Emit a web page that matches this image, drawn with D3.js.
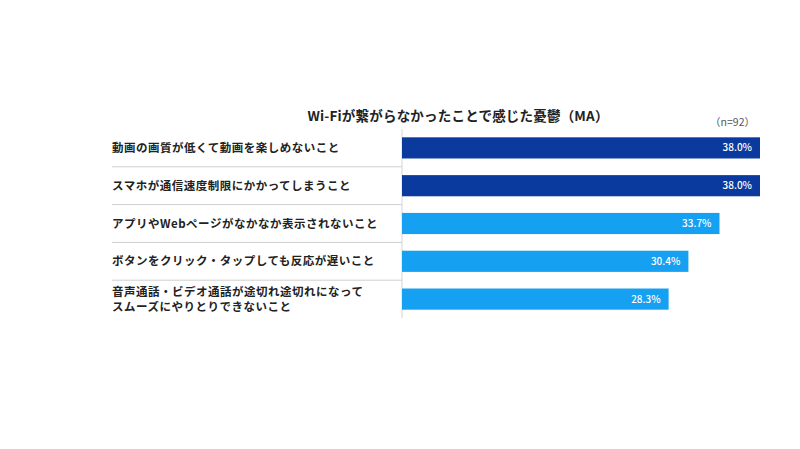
<!DOCTYPE html>
<html>
<head>
<meta charset="utf-8">
<script src="https://cdn.jsdelivr.net/npm/d3@7"></script>
<style>
  body { margin: 0; background: #fff; }
  svg { display: block; font-family: "Noto Sans CJK JP", "Noto Sans", sans-serif; }
</style>
</head>
<body>
<svg id="chart" width="800" height="449"></svg>
<script>
// values
const categories = [
  "動画の画質が低くて動画を楽しめないこと",
  "スマホが通信速度制限にかかってしまうこと",
  "アプリやWebページがなかなか表示されないこと",
  "ボタンをクリック・タップしても反応が遅いこと",
  "音声通話・ビデオ通話が途切れ途切れになって\nスムーズにやりとりできないこと"
];
const values = [38.0, 38.0, 33.7, 30.4, 28.3];
const highlight = [true, true, false, false, false];
const title = "Wi-Fiが繋がらなかったことで感じた憂鬱（MA）";
const note = "（n=92）";

const svg = d3.select("#chart");
const axisX = 402, labelX = 112;
const plotTop = 129, plotBottom = 318;

const x = d3.scaleLinear().domain([0, 38]).range([axisX, 760]);
const y = d3.scaleBand().domain(categories).range([plotTop, plotBottom]).paddingInner(0.44).paddingOuter(0.22);

svg.append("text")
  .attr("x", 458).attr("y", 121)
  .attr("text-anchor", "middle")
  .attr("font-size", 13.5).attr("font-weight", 700).attr("fill", "#222")
  .attr("letter-spacing", 0.2)
  .text(title);

svg.append("text")
  .attr("x", 755).attr("y", 126)
  .attr("text-anchor", "end")
  .attr("font-size", 10.5).attr("fill", "#555")
  .text(note);

// separators between rows
const step = y.step();
const seps = categories.slice(1).map(c => y(c) - (step - y.bandwidth()) / 2);
svg.selectAll("line.sep").data(seps).join("line")
  .attr("class", "sep")
  .attr("x1", labelX).attr("x2", axisX)
  .attr("y1", d => d).attr("y2", d => d)
  .attr("stroke", "#cfcfcf").attr("stroke-width", 1);

// axis line
svg.append("line")
  .attr("x1", axisX).attr("x2", axisX)
  .attr("y1", plotTop).attr("y2", plotBottom)
  .attr("stroke", "#d4d4d4").attr("stroke-width", 1);

svg.selectAll("rect.bar").data(categories).join("rect")
  .attr("class", "bar")
  .attr("x", x(0))
  .attr("y", d => y(d))
  .attr("width", (d, i) => x(values[i]) - x(0))
  .attr("height", y.bandwidth())
  .attr("fill", (d, i) => highlight[i] ? "#0b3a9e" : "#16a0f2");

svg.selectAll("text.val").data(categories).join("text")
  .attr("class", "val")
  .attr("x", (d, i) => x(values[i]) - 8)
  .attr("y", d => y(d) + y.bandwidth() / 2 + 3.5)
  .attr("text-anchor", "end")
  .attr("font-size", 10).attr("font-weight", 500).attr("fill", "#fff")
  .text((d, i) => values[i].toFixed(1) + "%");

const labels = svg.selectAll("text.lab").data(categories).join("text")
  .attr("class", "lab")
  .attr("font-size", 11.5).attr("font-weight", 700).attr("fill", "#222")
  .attr("letter-spacing", 0.5);
labels.each(function(d) {
  const lines = d.split("\n");
  const cy = y(d) + y.bandwidth() / 2;
  const lh = 15;
  d3.select(this).selectAll("tspan").data(lines).join("tspan")
    .attr("x", labelX)
    .attr("y", (l, j) => cy + 4 + (j - (lines.length - 1) / 2) * lh)
    .text(l => l);
});
</script>
</body>
</html>
